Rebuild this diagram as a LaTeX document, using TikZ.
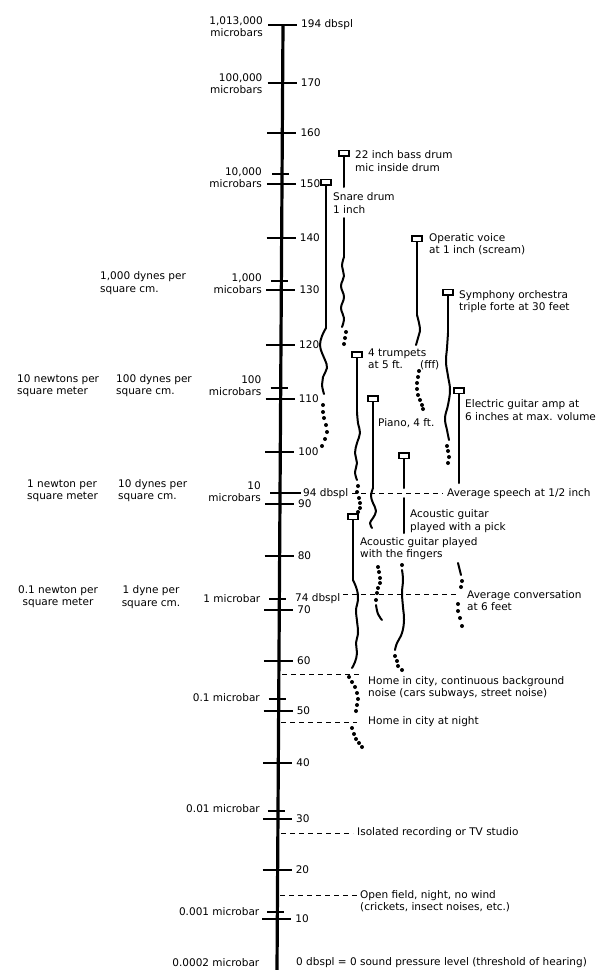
\documentclass[tikz,border=0pt]{standalone}
\usepackage{fontspec}
\setmainfont{DejaVu Sans}
\newcommand\lbfont{\fontsize{10.5}{12.3}\selectfont}
\tikzset{
  axisline/.style={line width=3.2pt},
  tickline/.style={line width=1.3pt},
  mtick/.style={line width=1.1pt},
  lbl/.style={inner sep=0pt, font=\lbfont, align=left},
  marker/.style={draw, line width=1.5pt, fill=white, minimum width=10pt, minimum height=5.5pt, inner sep=0pt},
  vline/.style={line width=2pt, line cap=round, line join=round},
  wave/.style={line width=2pt, line cap=round, line join=round},
  dashline/.style={line width=1pt, dash pattern=on 5pt off 4pt},
}
\begin{document}
\begin{tikzpicture}[x=1pt,y=-1pt]
\useasboundingbox (0,0) rectangle (600,970);
\fill[white] (0,0) rectangle (600,970);

% axis
\draw[axisline] (283,25) -- (277,970);
\foreach \yy/\tt in {25/194 dbspl,83/170,133/160,184/150,238/140,290/130,345/120,399/110,452/100,504/90,556/80,610/70,661/60,711/50,763/40,819/30,870/20,919/10}{
  \pgfmathsetmacro\axx{283-0.0064*(\yy-25)}
  \draw[tickline] (\axx-15,\yy) -- (\axx+14,\yy);
  \node[lbl,anchor=west] (db\yy) at (\axx+18,\yy) {\tt};
}
\foreach \yy in {174,281,388,493,599,699,811,912}{
  \pgfmathsetmacro\axx{283-0.0064*(\yy-25)}
  \draw[mtick] (\axx-10,\yy) -- (\axx+7,\yy);
}
\draw[mtick] (286,493) -- (301,493);
\node[lbl,anchor=west] (db94) at (303,494) {94 dbspl};
\node[lbl,anchor=west] (db74) at (295,599) {74 dbspl};

% left: microbars
\node[lbl,anchor=east,align=right] (m1013) at (263,27) {1,013,000\\microbars};
\node[lbl,anchor=east,align=right] (m100k) at (262.6,83.5) {100,000\\microbars};
\node[lbl,anchor=east,align=right] (m10k) at (262,178) {10,000\\microbars};
\node[lbl,anchor=east,align=right] (m1k) at (262,283.5) {1,000\\micobars};
\node[lbl,anchor=east,align=right] (m100) at (261.5,386) {100\\microbars};
\node[lbl,anchor=east,align=right] (m10) at (261,491.5) {10\\microbars};
\node[lbl,anchor=east] (m1) at (260.5,599) {1 microbar};
\node[lbl,anchor=east] (m01) at (260,698) {0.1 microbar};
\node[lbl,anchor=east] (m001) at (260,809) {0.01 microbar};
\node[lbl,anchor=east] (m0001) at (259.5,912) {0.001 microbar};
\node[lbl,anchor=east] (m00002) at (259.5,963) {0.0002 microbar};

% dynes / newtons
\node[lbl,anchor=west] (d1000) at (100,283) {1,000 dynes per\\square cm.};
\node[lbl,anchor=west] (d100) at (116,385.5) {100 dynes per\\square cm.};
\node[lbl,anchor=west] (d10) at (118,490.5) {10 dynes per\\square cm.};
\node[lbl,align=center] (d1) at (151,597) {1 dyne per\\square cm.};
\node[lbl,anchor=west] (n10) at (17,385.5) {10 newtons per\\square meter};
\node[lbl,anchor=west] (n1) at (27,490.5) {1 newton per\\square meter};
\node[lbl,align=center] (n01) at (58,597) {0.1 newton per\\square meter};

% markers
\node[marker] (bass) at (344,153) {};
\node[marker] (snare) at (326,182) {};
\node[marker] (opera) at (417,238.5) {};
\node[marker] (symph) at (448,292) {};
\node[marker] (trump) at (357,354.5) {};
\node[marker] (piano) at (373,398.5) {};
\node[marker] (elec) at (459,390.5) {};
\node[marker] (pick) at (404,455.5) {};
\node[marker] (fing) at (353,516.5) {};

% bass drum
\draw[vline] (bass.south) -- (344,187);
\draw[vline] (344,218) -- (344,257);
\draw[wave] plot[smooth,tension=0.7] coordinates {(344,257) (342,266) (344,276) (341,286) (344,297) (341,308) (344,318) (342,327)};
\foreach \p in {(346,332),(345,338),(344,344)} \fill \p circle[radius=2];

% snare drum
\draw[vline] (snare.south) -- (326,328);
\draw[wave] plot[smooth,tension=0.7] coordinates {(326,328) (322,336) (320,345) (322,353) (325,360) (327,368) (323,377) (322,385) (324,394)};
\foreach \p in {(323,405),(323,412),(324,418),(326,425),(327,432),(325,439),(322,446)} \fill \p circle[radius=2];

% operatic voice
\draw[vline] (opera.south) -- (417,315);
\draw[wave] plot[smooth,tension=0.7] coordinates {(417,315) (419,323) (420,331) (418,338) (416,345)};
\foreach \p in {(419,371),(418,377),(417,383),(417,389),(418,395),(420,400),(422,405),(423,409)} \fill \p circle[radius=2];

% symphony orchestra
\draw[vline] (symph.south) -- (448,333);
\draw[wave] plot[smooth,tension=0.7] coordinates {(448,333) (447,348) (446,362) (448,376) (450,390) (448,405) (445,418) (447,430) (449,440)};
\foreach \p in {(447,446),(448,451),(449,457),(448,463)} \fill \p circle[radius=2];

% trumpets
\draw[vline] (trump.south) -- (357,412);
\draw[wave] plot[smooth,tension=0.7] coordinates {(357,412) (358,423) (360,433) (357,443) (355,453) (357,463) (355,472) (357,480)};
\foreach \p in {(358,486),(357,492),(359,498),(360,503),(360,508),(358,512)} \fill \p circle[radius=2];

% piano
\draw[vline] (piano.south) -- (373,488);
\draw[wave] plot[smooth,tension=0.7] coordinates {(373,488) (371,496) (373,503) (376,511) (373,518) (370,523) (372,528)};

% electric guitar
\draw[vline] (elec.south) -- (459,483);

% acoustic guitar with a pick
\draw[vline] (pick.south) -- (404,488);
\draw[vline] (404,498) -- (404,533);
\fill (402,565) circle[radius=2];
\draw[wave] plot[smooth,tension=0.7] coordinates {(402,570) (403,580) (402,593) (403,607) (404,620) (402,633) (397,643) (395,650)};
\foreach \p in {(395,656),(397,661),(398,666),(402,670)} \fill \p circle[radius=2];

% acoustic guitar with the fingers
\draw[vline] (fing.south) -- (353,580);
\draw[wave] plot[smooth,tension=0.7] coordinates {(353,580) (357,590) (358,600) (356,610) (357,621) (358,633) (356,643) (357,653) (355,662) (352,668)};
\foreach \p in {(349,677),(352,682),(355,687),(357,693),(358,699),(357,705),(356,711)} \fill \p circle[radius=2];
\foreach \p in {(352,728),(354,734),(356,739),(359,743),(362,747)} \fill \p circle[radius=2];

% middle dotted
\foreach \p in {(378,567),(379,572),(380,578),(380,583),(378,588),(377,593),(376,600)} \fill \p circle[radius=2];
\draw[wave] plot[smooth,tension=0.7] coordinates {(376,605) (378,614) (382,620)};

% average conversation
\draw[vline] (458,563) -- (461,575);
\foreach \p in {(462,581),(461,587),(458,604),(458,611),(460,618),(462,626)} \fill \p circle[radius=2];

% dashed level lines
\draw[dashline] (352,493) -- (443,493);
\draw[dashline] (343,594) -- (458,594);
\draw[dashline] (282,674) -- (360,674);
\draw[dashline] (281,722) -- (357,722);
\draw[dashline] (281,833) -- (353,833);
\draw[dashline] (280,895) -- (358,895);

% labels
\node[lbl,anchor=west] (lbass) at (355,161) {22 inch bass drum\\mic inside drum};
\node[lbl,anchor=west] (lsnare) at (333,203) {Snare drum\\1 inch};
\node[lbl,anchor=west] (lopera) at (429,244.5) {Operatic voice\\at 1 inch (scream)};
\node[lbl,anchor=west] (lsymph) at (459,301.5) {Symphony orchestra\\triple forte at 30 feet};
\node[lbl,anchor=west] (ltrump) at (368,359) {4 trumpets\\at 5 ft.};
\node[lbl,anchor=west] (lfff) at (420,365) {(fff)};
\node[lbl,anchor=west] (lelec) at (465,410) {Electric guitar amp at\\6 inches at max. volume};
\node[lbl,anchor=west] (lpiano) at (378,423) {Piano, 4 ft.};
\node[lbl,anchor=west] (lspeech) at (447,494) {Average speech at 1/2 inch};
\node[lbl,anchor=west] (lpick) at (410,521) {Acoustic guitar\\played with a pick};
\node[lbl,anchor=west] (lfing) at (360,548.5) {Acoustic guitar played\\with the fingers};
\node[lbl,anchor=west] (lconv) at (467,600.5) {Average conversation\\at 6 feet};
\node[lbl,anchor=west] (lhome) at (368,687.5) {Home in city, continuous background\\noise (cars subways, street noise)};
\node[lbl,anchor=west] (lnight) at (368,722) {Home in city at night};
\node[lbl,anchor=west] (liso) at (357,833) {Isolated recording or TV studio};
\node[lbl,anchor=west] (lfield) at (360,901) {Open field, night, no wind\\(crickets, insect noises, etc.)};
\node[lbl,anchor=west] (lzero) at (296,963) {0 dbspl = 0 sound pressure level (threshold of hearing)};
\end{tikzpicture}
\end{document}
